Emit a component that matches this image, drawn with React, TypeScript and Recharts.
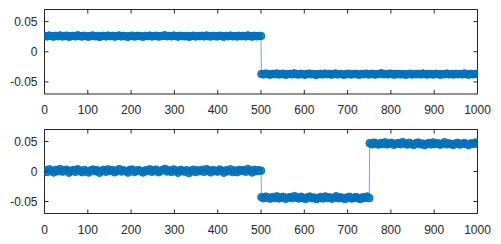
import { LineChart, Line, XAxis, YAxis } from "recharts"

const BLUE = "#0072BD"
const AXIS = "#262626"

const xTicks = [0, 100, 200, 300, 400, 500, 600, 700, 800, 900, 1000]
const yTicks = [-0.05, 0, 0.05]
const yLabels: Record<string, string> = { "-0.05": "-0.05", "0": "0", "0.05": "0.05" }

// top subplot: two levels
const top1 = [
  0.0262, 0.0255, 0.0268, 0.0259, 0.0251, 0.0264, 0.0257, 0.027, 0.0253, 0.0261,
  0.0266, 0.0249, 0.0258, 0.0263, 0.0255, 0.0271, 0.026, 0.0252, 0.0265, 0.0257,
  0.025, 0.0262, 0.0268, 0.0256, 0.0261, 0.0247, 0.0259, 0.0264, 0.0254, 0.0267,
  0.0258, 0.0263, 0.0251, 0.026, 0.0269, 0.0255, 0.0262, 0.0257, 0.0248, 0.0261,
  0.0266, 0.0253, 0.0259, 0.0264, 0.0256, 0.025, 0.0262, 0.0258, 0.0267, 0.0254,
  0.026, 0.0265, 0.0252, 0.0258, 0.0263, 0.0272, 0.0257, 0.0261, 0.0255, 0.0268,
  0.0259, 0.0251, 0.0264, 0.026, 0.0256, 0.0262, 0.0249, 0.0258, 0.0266, 0.0253,
  0.0261, 0.0257, 0.0264, 0.0255, 0.0269, 0.026, 0.0252, 0.0263, 0.0258, 0.0254,
  0.0265, 0.0259, 0.025, 0.0262, 0.0257, 0.0267, 0.0256, 0.0261, 0.0253, 0.0264,
  0.0258, 0.0262, 0.0255, 0.027, 0.0259, 0.0251, 0.0263, 0.0257, 0.026, 0.0262,
]
const top2 = [
  -0.0368, -0.0375, -0.0362, -0.0371, -0.0379, -0.0366, -0.0373, -0.036, -0.0377, -0.0369,
  -0.0364, -0.0381, -0.0372, -0.0367, -0.0375, -0.0359, -0.037, -0.0378, -0.0365, -0.0373,
  -0.038, -0.0368, -0.0362, -0.0374, -0.0369, -0.0383, -0.0371, -0.0366, -0.0376, -0.0363,
  -0.0372, -0.0367, -0.0379, -0.037, -0.0361, -0.0375, -0.0368, -0.0373, -0.0382, -0.0369,
  -0.0364, -0.0377, -0.0371, -0.0366, -0.0374, -0.038, -0.0368, -0.0372, -0.0363, -0.0376,
  -0.037, -0.0365, -0.0378, -0.0372, -0.0367, -0.0358, -0.0373, -0.0369, -0.0375, -0.0362,
  -0.0371, -0.0379, -0.0366, -0.037, -0.0374, -0.0368, -0.0381, -0.0372, -0.0364, -0.0377,
  -0.0369, -0.0373, -0.0366, -0.0375, -0.0361, -0.037, -0.0378, -0.0367, -0.0372, -0.0376,
  -0.0365, -0.0371, -0.038, -0.0368, -0.0373, -0.0363, -0.0374, -0.0369, -0.0377, -0.0366,
  -0.0372, -0.0368, -0.0375, -0.036, -0.0371, -0.0379, -0.0367, -0.0373, -0.037, -0.0369,
]

// bottom subplot: three levels
const bot1 = [
  0.0021, -0.0008, 0.0035, 0.0012, -0.0015, 0.0028, 0.0004, 0.0041, -0.0002, 0.0017,
  0.003, -0.0019, 0.0009, 0.0024, -0.0006, 0.0038, 0.0014, -0.0011, 0.0026, 0.0003,
  -0.0017, 0.0019, 0.0033, 0.0006, 0.0022, -0.0021, 0.0011, 0.0029, -0.0004, 0.0036,
  0.0008, 0.0025, -0.0013, 0.0016, 0.004, -0.0001, 0.002, 0.0005, -0.0018, 0.0027,
  0.0032, -0.0009, 0.0013, 0.0023, 0.0002, -0.0016, 0.0018, 0.001, 0.0037, -0.0005,
  0.0015, 0.0031, -0.0012, 0.0007, 0.0026, 0.0044, 0.0001, 0.0019, -0.0007, 0.0034,
  0.0012, -0.002, 0.0024, 0.0016, -0.0003, 0.0022, -0.0025, 0.0009, 0.003, -0.001,
  0.0018, 0.0004, 0.0028, -0.0006, 0.0039, 0.0014, -0.0014, 0.0025, 0.0008, -0.0002,
  0.0033, 0.0011, -0.0019, 0.0021, 0.0003, 0.0036, -0.0008, 0.0017, -0.0012, 0.0027,
  0.001, 0.0023, -0.0004, 0.0042, 0.0015, -0.0016, 0.0029, 0.0006, 0.0019, 0.0013,
]
const bot2 = [
  -0.0428, -0.0446, -0.0419, -0.0437, -0.0452, -0.0425, -0.0441, -0.0414, -0.0448, -0.0432,
  -0.0423, -0.0455, -0.0439, -0.0427, -0.0444, -0.0411, -0.0435, -0.045, -0.0421, -0.0442,
  -0.0457, -0.043, -0.0418, -0.0446, -0.0434, -0.0461, -0.0438, -0.0424, -0.0449, -0.0416,
  -0.044, -0.0429, -0.0453, -0.0436, -0.0413, -0.0447, -0.0431, -0.0442, -0.0458, -0.0433,
  -0.0422, -0.0451, -0.0437, -0.0426, -0.0445, -0.0459, -0.043, -0.0439, -0.0417, -0.0443,
]
const bot3 = [
  0.0472, 0.0454, 0.0481, 0.0463, 0.0448, 0.0475, 0.0459, 0.0486, 0.0452, 0.0468,
  0.0477, 0.0445, 0.0461, 0.0473, 0.0456, 0.0489, 0.0465, 0.045, 0.0479, 0.0458,
  0.0443, 0.047, 0.0482, 0.0454, 0.0466, 0.0439, 0.0462, 0.0476, 0.0451, 0.0484,
  0.046, 0.0471, 0.0447, 0.0464, 0.0487, 0.0453, 0.0469, 0.0458, 0.0442, 0.0467,
  0.0478, 0.0449, 0.0463, 0.0474, 0.0455, 0.0441, 0.047, 0.0461, 0.0483, 0.0457,
]

type Seg = { from: number; to: number; values: number[] }

// spread each segment's samples over its sample-index range
function build(segs: Seg[]) {
  const out: { x: number; y: number }[] = []
  segs.forEach((s) => {
    const n = s.values.length
    s.values.forEach((v, i) => {
      out.push({ x: s.from + ((s.to - s.from) * i) / (n - 1), y: v })
    })
  })
  return out
}

const topData = build([
  { from: 1, to: 500, values: top1 },
  { from: 501, to: 1000, values: top2 },
])
const botData = build([
  { from: 1, to: 500, values: bot1 },
  { from: 501, to: 750, values: bot2 },
  { from: 751, to: 1000, values: bot3 },
])

const font = { fontFamily: "'Liberation Sans', Arial, sans-serif", fontSize: 12, fill: AXIS }

const XBottomTick = (props: any) => {
  const { x, y, payload } = props
  return (
    <g>
      <line x1={x} x2={x} y1={y} y2={y - 4} stroke={AXIS} />
      <text x={x} y={y + 16} dy="0.35em" textAnchor="middle" {...font}>
        {payload.value}
      </text>
    </g>
  )
}
const XTopTick = (props: any) => {
  const { x, y } = props
  return <line x1={x} x2={x} y1={y} y2={y + 4} stroke={AXIS} />
}
const YLeftTick = (props: any) => {
  const { x, y, payload } = props
  return (
    <g>
      <line x1={x} x2={x + 4} y1={y} y2={y} stroke={AXIS} />
      <text x={x - 7} y={y} dy="0.35em" textAnchor="end" {...font}>
        {yLabels[String(payload.value)] ?? payload.value}
      </text>
    </g>
  )
}
const YRightTick = (props: any) => {
  const { x, y } = props
  return <line x1={x} x2={x - 4} y1={y} y2={y} stroke={AXIS} />
}

function Panel({ data, height, xHeight }: { data: { x: number; y: number }[]; height: number; xHeight: number }) {
  return (
    <LineChart width={501} height={height} data={data} margin={{ top: 8.5, right: 22.5, bottom: 0, left: 0 }}>
      <XAxis
        dataKey="x"
        type="number"
        domain={[0, 1000]}
        ticks={xTicks}
        height={xHeight}
        tickSize={0}
        tickMargin={0}
        tickLine={false}
        tick={XBottomTick}
        stroke={AXIS}
        allowDataOverflow
      />
      <XAxis
        xAxisId="t"
        orientation="top"
        dataKey="x"
        type="number"
        domain={[0, 1000]}
        ticks={xTicks}
        height={1}
        tickSize={0}
        tickMargin={0}
        tickLine={false}
        tick={XTopTick}
        stroke={AXIS}
        allowDataOverflow
      />
      <YAxis
        type="number"
        domain={[-0.07, 0.07]}
        ticks={yTicks}
        width={44.5}
        tickSize={0}
        tickMargin={0}
        tickLine={false}
        tick={YLeftTick}
        stroke={AXIS}
        allowDataOverflow
      />
      <YAxis
        yAxisId="r"
        orientation="right"
        type="number"
        domain={[-0.07, 0.07]}
        ticks={yTicks}
        width={1}
        tickSize={0}
        tickMargin={0}
        tickLine={false}
        tick={YRightTick}
        stroke={AXIS}
        allowDataOverflow
      />
      <Line
        dataKey="y"
        type="linear"
        stroke={BLUE}
        strokeWidth={0.6}
        dot={{ r: 3.8, stroke: BLUE, strokeWidth: 1, fill: BLUE, fillOpacity: 0.85 }}
        activeDot={false}
        isAnimationActive={false}
      />
    </LineChart>
  )
}

export default function App() {
  return (
    <div style={{ position: "absolute", left: 0, top: 0, width: 501, height: 244, background: "#fff" }}>
      <Panel data={topData} height={120} xHeight={26} />
      <Panel data={botData} height={124} xHeight={30.5} />
    </div>
  )
}
